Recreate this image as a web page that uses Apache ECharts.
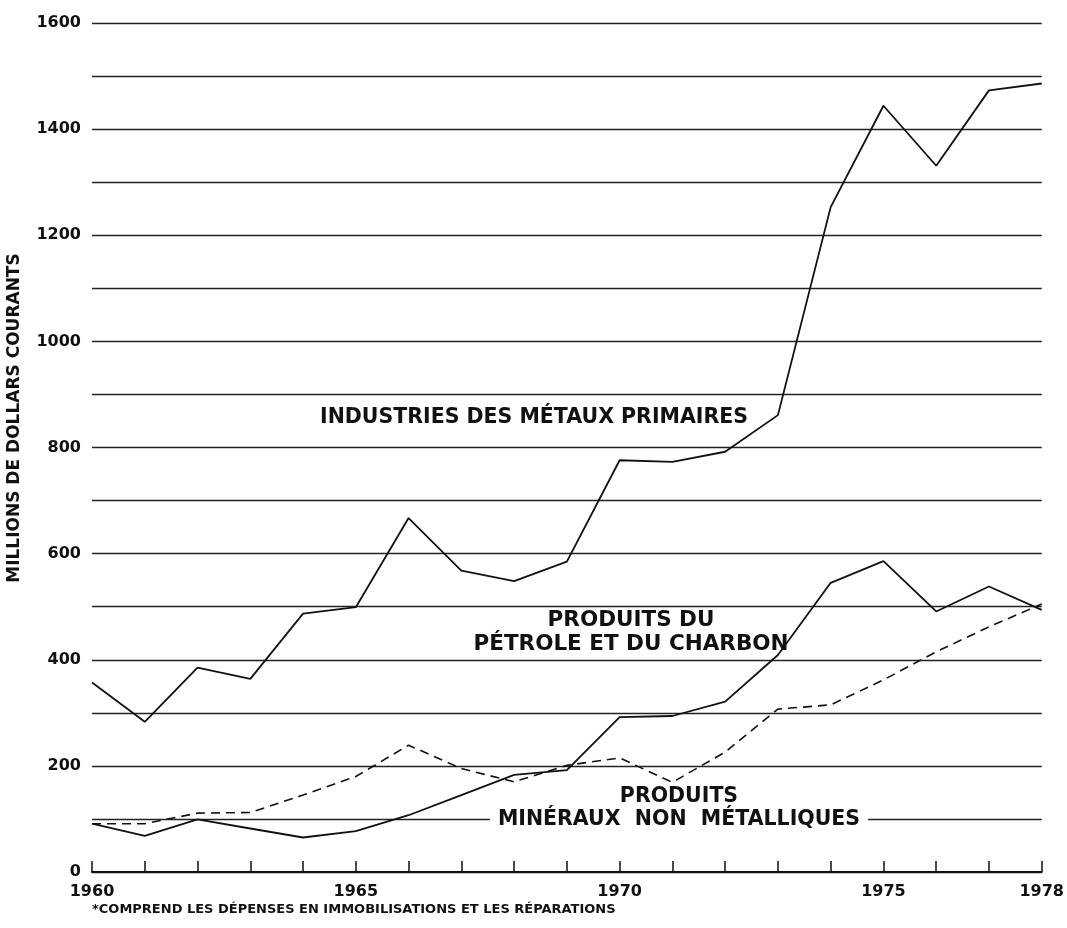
<!DOCTYPE html>
<html>
<head>
<meta charset="utf-8">
<script src="https://cdn.jsdelivr.net/npm/echarts@6/dist/echarts.min.js"></script>
<style>
html,body{margin:0;padding:0;background:#fff;}
#chart{width:1067px;height:928px;}
</style>
</head>
<body>
<div id="chart"></div>
<script>
const years = ['1960','1961','1962','1963','1964','1965','1966','1967','1968','1969','1970','1971','1972','1973','1974','1975','1976','1977','1978'];
const labeledYears = ['1960','1965','1970','1975','1978'];
const metauxPrimaires = [357,283,385,364,487,499,667,568,548,585,776,773,792,861,1253,1444,1331,1473,1486];
const petroleCharbon = [91,68,99,82,65,77,107,145,183,192,292,294,321,409,545,586,491,538,494];
const mineraux = [91,91,111,112,145,180,239,195,170,201,215,169,226,307,315,362,415,462,505];
const yTickLabels = [0,200,400,600,800,1000,1200,1400,1600];

const FONT = '"DejaVu Sans", "Liberation Sans", sans-serif';
const chart = echarts.init(document.getElementById('chart'));
chart.setOption({
  backgroundColor: '#fff',
  animation: false,
  grid: {left: 92, right: 24, top: 23, bottom: 56, containLabel: false},
  xAxis: {
    type: 'category',
    data: years,
    boundaryGap: false,
    axisLine: {show: true, lineStyle: {color: '#111', width: 2}},
    axisTick: {show: true, inside: true, length: 11, interval: 0, lineStyle: {color: '#111', width: 1.5}},
    axisLabel: {
      interval: 0,
      margin: 12,
      color: '#111',
      fontFamily: FONT,
      fontWeight: 'bold',
      fontSize: 16,
      formatter: v => labeledYears.includes(v) ? v : ''
    },
    splitLine: {show: false}
  },
  yAxis: {
    type: 'value',
    min: 0, max: 1600, interval: 100,
    axisLine: {show: false},
    axisTick: {show: false},
    axisLabel: {
      margin: 11,
      color: '#111',
      fontFamily: FONT,
      fontWeight: 'bold',
      fontSize: 16,
      formatter: v => yTickLabels.includes(v) ? String(v) : ''
    },
    splitLine: {show: true, lineStyle: {color: '#222', width: 1.3}}
  },
  series: [
    {name: 'INDUSTRIES DES MÉTAUX PRIMAIRES', type: 'line', data: metauxPrimaires, symbol: 'none',
     lineStyle: {color: '#111', width: 1.8}, z: 5},
    {name: 'PRODUITS DU PÉTROLE ET DU CHARBON', type: 'line', data: petroleCharbon, symbol: 'none',
     lineStyle: {color: '#111', width: 1.8}, z: 5},
    {name: 'PRODUITS MINÉRAUX NON MÉTALLIQUES', type: 'line', data: mineraux, symbol: 'none',
     lineStyle: {color: '#111', width: 1.6, type: [9, 6]}, z: 5}
  ],
  graphic: [
    {type: 'text', x: 15, y: 418, rotation: Math.PI / 2, z: 10,
     style: {text: 'MILLIONS DE DOLLARS COURANTS', fill: '#111', font: 'bold 17px ' + FONT,
             textAlign: 'center', textVerticalAlign: 'middle'}},
    {type: 'text', x: 534, y: 418, z: 10,
     style: {text: 'INDUSTRIES DES MÉTAUX PRIMAIRES', fill: '#111', font: 'bold 20.5px ' + FONT,
             textAlign: 'center', textVerticalAlign: 'middle'}},
    {type: 'text', x: 631, y: 632, z: 10,
     style: {text: 'PRODUITS DU\nPÉTROLE ET DU CHARBON', fill: '#111', font: 'bold 21.5px ' + FONT,
             textAlign: 'center', textVerticalAlign: 'middle', lineHeight: 24}},
    {type: 'text', x: 679, y: 808, z: 10,
     style: {text: 'PRODUITS\nMINÉRAUX  NON  MÉTALLIQUES', fill: '#111', font: 'bold 20.5px ' + FONT,
             textAlign: 'center', textVerticalAlign: 'middle', lineHeight: 23,
             backgroundColor: '#fff', padding: [0, 8]}},
    {type: 'text', x: 92, y: 910, z: 10,
     style: {text: '*COMPREND LES DÉPENSES EN IMMOBILISATIONS ET LES RÉPARATIONS', fill: '#111',
             font: 'bold 13px ' + FONT, textVerticalAlign: 'middle'}}
  ]
});
</script>
</body>
</html>
